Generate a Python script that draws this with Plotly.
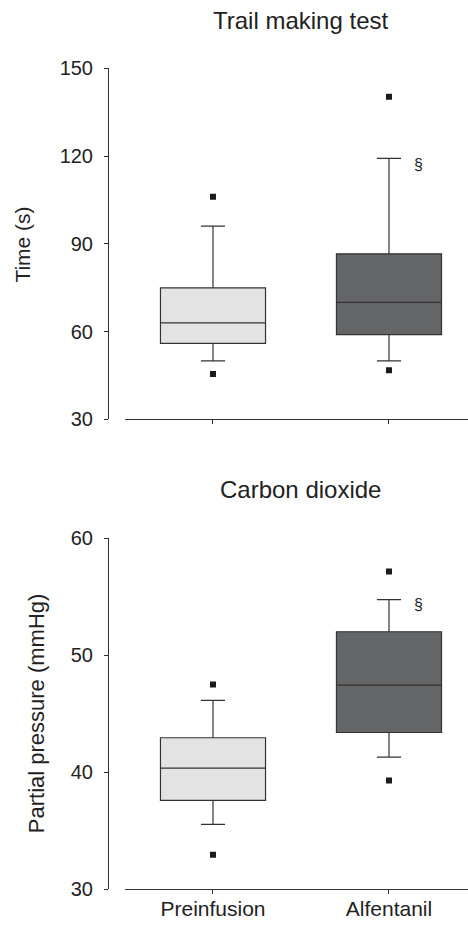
import plotly.graph_objects as go

categories = ["Preinfusion", "Alfentanil"]

# Trail making test (s)
tmt_q1 = [56.0, 59.0]
tmt_median = [63.0, 70.0]
tmt_q3 = [75.0, 86.6]
tmt_low_whisker = [50.0, 50.0]
tmt_high_whisker = [96.1, 119.2]
tmt_low_point = [45.5, 46.8]
tmt_high_point = [106.1, 140.3]

# Carbon dioxide partial pressure (mmHg)
co2_q1 = [37.6, 43.4]
co2_median = [40.35, 47.45]
co2_q3 = [42.95, 52.0]
co2_low_whisker = [35.55, 41.3]
co2_high_whisker = [46.15, 54.75]
co2_low_point = [32.95, 39.3]
co2_high_point = [47.5, 57.15]

box_fills = ["#e2e3e2", "#646567"]
panel_titles = ["Trail making test", "Carbon dioxide"]
y_titles = ["Time (s)", "Partial pressure (mmHg)"]
y_ticks_top = [30, 60, 90, 120, 150]
y_ticks_bottom = [30, 40, 50, 60]
sig_mark = "§"
sig_y = [117.0, 54.3]

W, H = 468, 926
FONT = "Liberation Sans, Arial, sans-serif"
TXT = "#222222"
LINE = "#333333"


def px(v):
    return v / W


def py(v):
    return 1 - v / H


fig = go.Figure()

panels = [
    dict(q1=tmt_q1, med=tmt_median, q3=tmt_q3, lo=tmt_low_whisker, hi=tmt_high_whisker,
         plo=tmt_low_point, phi=tmt_high_point, xa="x", ya="y"),
    dict(q1=co2_q1, med=co2_median, q3=co2_q3, lo=co2_low_whisker, hi=co2_high_whisker,
         plo=co2_low_point, phi=co2_high_point, xa="x2", ya="y2"),
]

for p in panels:
    for i, cat in enumerate(categories):
        fig.add_trace(go.Box(
            x=[cat], q1=[p["q1"][i]], median=[p["med"][i]], q3=[p["q3"][i]],
            lowerfence=[p["lo"][i]], upperfence=[p["hi"][i]],
            width=0.597, whiskerwidth=0.23,
            fillcolor=box_fills[i], line=dict(color=LINE, width=1.2),
            boxpoints=False, showlegend=False, hoverinfo="skip",
            xaxis=p["xa"], yaxis=p["ya"],
        ))
        fig.add_trace(go.Scatter(
            x=[cat, cat], y=[p["plo"][i], p["phi"][i]], mode="markers",
            marker=dict(symbol="square", size=6, color="#1a1a1a"),
            showlegend=False, hoverinfo="skip",
            xaxis=p["xa"], yaxis=p["ya"],
        ))

xdom = [px(125), 1.0]
ypos = px(108)
ydom_top = [py(418.4), py(58.7)]
ydom_bot = [py(899.8), py(539.9)]

xcommon = dict(
    type="category", categoryorder="array", categoryarray=categories,
    range=[-0.5, 1.449], domain=xdom, showline=True, linecolor=LINE, linewidth=1,
    ticks="outside", ticklen=4, tickcolor=LINE, showgrid=False, zeroline=False,
    tickfont=dict(family=FONT, size=21, color=TXT), ticklabelstandoff=-4,
)
ycommon = dict(
    anchor="free", position=ypos, showline=True, linecolor=LINE, linewidth=1,
    ticks="outside", ticklen=4, tickcolor=LINE, showgrid=False, zeroline=False,
    tickfont=dict(family=FONT, size=20, color=TXT), ticklabelstandoff=7,
)

fig.update_layout(
    width=W, height=H,
    margin=dict(l=0, r=0, t=0, b=0),
    paper_bgcolor="white", plot_bgcolor="white",
    hovermode=False,
    xaxis=dict(**xcommon, anchor="y", showticklabels=False),
    yaxis=dict(**ycommon, domain=ydom_top, range=[30, 150], tickvals=y_ticks_top),
    xaxis2=dict(**xcommon, anchor="y2"),
    yaxis2=dict(**ycommon, domain=ydom_bot, range=[30, 60], tickvals=y_ticks_bottom),
)

ann = [
    dict(text=panel_titles[0], x=px(300.5), y=py(10), xref="paper", yref="paper",
         showarrow=False, font=dict(family=FONT, size=24, color=TXT), xanchor="center", yanchor="middle"),
    dict(text=panel_titles[1], x=px(300), y=py(490.5), xref="paper", yref="paper",
         showarrow=False, font=dict(family=FONT, size=24, color=TXT), xanchor="center", yanchor="middle"),
    dict(text=y_titles[0], x=px(23), y=py(239.3), xref="paper", yref="paper", textangle=-90,
         showarrow=False, font=dict(family=FONT, size=21, color=TXT), xanchor="center", yanchor="middle"),
    dict(text=y_titles[1], x=px(36), y=py(719.3), xref="paper", yref="paper", textangle=-90,
         showarrow=False, font=dict(family=FONT, size=22, color=TXT), xanchor="center", yanchor="middle"),
    dict(text=sig_mark, x=1.17, y=sig_y[0], xref="x", yref="y", showarrow=False,
         font=dict(family=FONT, size=16, color=TXT)),
    dict(text=sig_mark, x=1.17, y=sig_y[1], xref="x2", yref="y2", showarrow=False,
         font=dict(family=FONT, size=16, color=TXT)),
]
fig.update_layout(annotations=ann)

fig.write_html("out.html", config={"displayModeBar": False, "staticPlot": True},
               post_script="document.body.style.margin='0';")
